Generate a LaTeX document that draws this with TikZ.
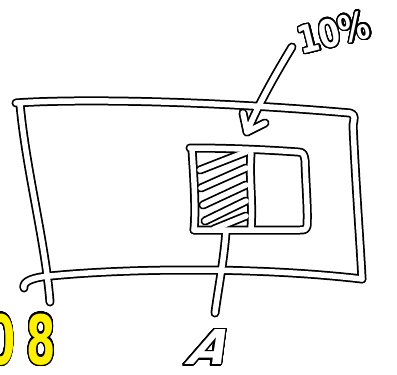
\documentclass[tikz,border=0pt]{standalone}
\usepackage{fontspec}
\usepackage{contour}
\newfontfamily\handfont{DejaVu Sans}
\definecolor{figY}{RGB}{255,240,0}
\contourlength{1.5pt}
\contournumber{40}
\tikzset{
  inkpass/.style={line width=9pt, black, line cap=round, line join=round},
  paperpass/.style={line width=5.5pt, white, line cap=round, line join=round},
  handlabel/.style={inner sep=0pt, font=\handfont\bfseries\fontsize{38}{42}\selectfont},
}
% every stroke of the sketch, drawn once per pass
\newcommand\sketchstrokes[1]{%
  % outer frame
  \draw[#1] (F-tl) .. controls (70,99) and (200,100) .. (F-tr)
    .. controls (356,114) and (354,120) .. (353,125)
    .. controls (356,190) and (360,240) .. (F-br);
  \draw[#1] (F-bl) .. controls (22,281) and (35,277) .. (50,276)
    .. controls (120,269) and (250,266) .. (F-br);
  \draw[#1] (20,104) .. controls (26,170) and (45,240) .. (F-leg);
  % small box
  \draw[#1] (S-tl) .. controls (230,148) and (270,150) .. (S-tr)
    .. controls (303,152) and (304,154) .. (305,160)
    .. controls (306,190) and (308,210) .. (307,226)
    .. controls (306,230) and (304,230) .. (S-br) -- (S-bl);
  \draw[#1] (192,149) .. controls (194,180) and (196,210) .. (S-bl);
  \draw[#1] (251,153) .. controls (249,180) and (253,200) .. (251,229);
  % hatching
  \foreach \ya/\yb/\xa in {170/152/200, 188/168/201, 205/185/203, 221/201/205, 229/216/214}
    \draw[#1] (\xa,\ya) -- (246,\yb);
  % arrow to the box
  \draw[#1] (P-tail) .. controls (275,75) and (258,105) .. (P-tip);
  \draw[#1] (243,113) -- (P-tip) -- (265,123);
  % line down to A
  \draw[#1] (S-foot) .. controls (224,260) and (218,290) .. (A-top);
}

\begin{document}
\begin{tikzpicture}[x=1pt, y=-1pt]
\useasboundingbox (0,0) rectangle (397,375);
\clip (0,0) rectangle (397,375);
% corners and ends
\coordinate (F-tl) at (16,103);
\coordinate (F-tr) at (350,113);
\coordinate (F-br) at (362,279);
\coordinate (F-bl) at (24,288);
\coordinate (F-leg) at (50,302);
\coordinate (S-tl) at (190,148);
\coordinate (S-tr) at (298,152);
\coordinate (S-br) at (300,230);
\coordinate (S-bl) at (194,230);
\coordinate (S-foot) at (226,231);
\coordinate (P-tail) at (292,47);
\coordinate (P-tip) at (247,132);
\coordinate (A-top) at (215,313);
% two passes: dark rim, then white core
\sketchstrokes{inkpass}
\sketchstrokes{paperpass}
% labels
\node[handlabel, rotate=14, xscale=0.8, white] (pct) at (334,33) {\contour{black}{10\%}};
\node[handlabel, font=\handfont\bfseries\fontsize{48}{52}\selectfont, xslant=0.5, white] (lblA) at (211,348) {\contour{black}{A}};
\node[handlabel, font=\handfont\bfseries\fontsize{68}{72}\selectfont, xscale=0.62, anchor=east, figY] (code) at (56,340) {\contour{black}{0\kern18pt8}};
\end{tikzpicture}
\end{document}
